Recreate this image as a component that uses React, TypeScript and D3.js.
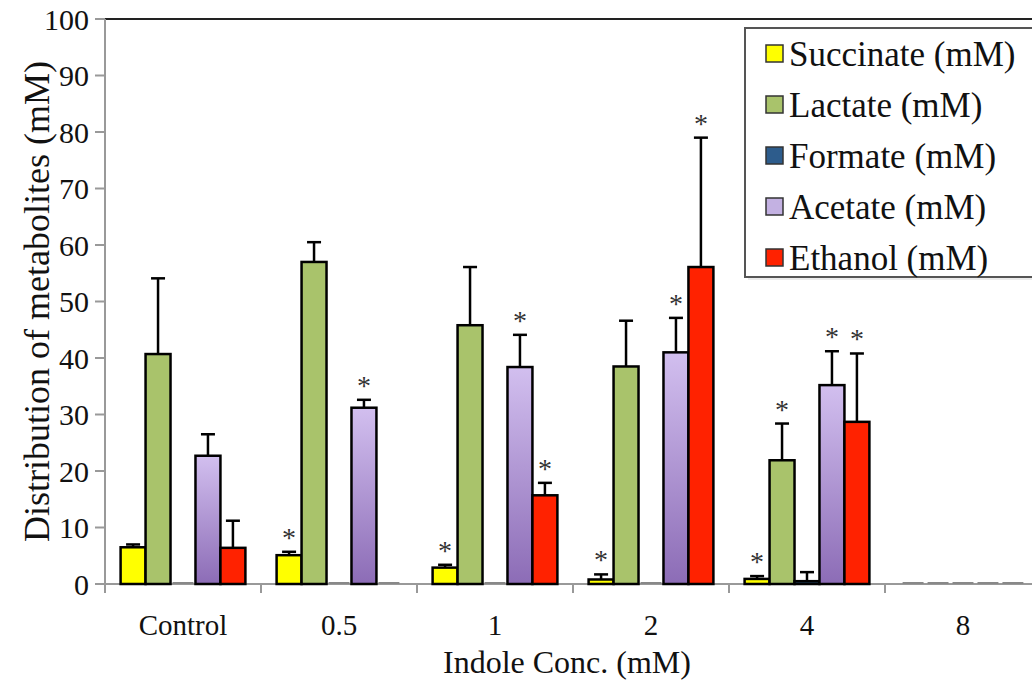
import React from "react";
import * as d3 from "d3";

const categories = ["Control", "0.5", "1", "2", "4", "8"];
const seriesNames = ["Succinate (mM)", "Lactate (mM)", "Formate (mM)", "Acetate (mM)", "Ethanol (mM)"];

const succinate = [6.5, 5.1, 2.9, 0.8, 0.9, 0];
const lactate = [40.7, 57.0, 45.8, 38.5, 21.9, 0];
const formate = [0, 0, 0, 0, 0.5, 0];
const acetate = [22.7, 31.2, 38.4, 41.0, 35.2, 0];
const ethanol = [6.4, 0, 15.7, 56.1, 28.7, 0];

const succinateErr = [0.5, 0.6, 0.5, 0.9, 0.5, 0];
const lactateErr = [13.4, 3.5, 10.3, 8.1, 6.5, 0];
const formateErr = [0, 0, 0, 0, 1.6, 0];
const acetateErr = [3.8, 1.4, 5.7, 6.1, 6.0, 0];
const ethanolErr = [4.8, 0, 2.2, 22.9, 12.1, 0];

// significance stars per series, per category
const succinateSig = [false, true, true, true, true, false];
const lactateSig = [false, false, false, false, true, false];
const formateSig = [false, false, false, false, false, false];
const acetateSig = [false, true, true, true, true, false];
const ethanolSig = [false, false, true, true, true, false];

const yTicks = [0, 10, 20, 30, 40, 50, 60, 70, 80, 90, 100];

const values = [succinate, lactate, formate, acetate, ethanol];
const errors = [succinateErr, lactateErr, formateErr, acetateErr, ethanolErr];
const sigs = [succinateSig, lactateSig, formateSig, acetateSig, ethanolSig];
const fills = ["#ffff00", "#a9c36b", "#2d5c8c", "url(#acetateGrad)", "#ff2200"];
const legendFills = ["#ffff00", "#a9c36b", "#2d5c8c", "#c3b1e2", "#ff2200"];

const W = 1032;
const H = 692;
const left = 105;
const top = 19;
const bottom = 584;
const right = 1041;
const font = "Liberation Serif, DejaVu Serif, serif";

export default function App() {
  const y = d3.scaleLinear().domain([0, 100]).range([bottom, top]);
  const x0 = d3.scaleBand<string>().domain(categories).range([left, right]).padding(0);
  const step = x0.bandwidth();
  const x1 = d3
    .scaleBand<string>()
    .domain(seriesNames)
    .range([step * 0.1, step * 0.9])
    .padding(0);
  const bw = x1.bandwidth();

  return (
    <svg width={W} height={H} style={{ position: "absolute", left: 0, top: 0, background: "#fff", fontFamily: font }}>
      <defs>
        <linearGradient id="acetateGrad" x1="0" y1="0" x2="0" y2="1">
          <stop offset="0%" stopColor="#d2bfef" />
          <stop offset="100%" stopColor="#8c6cb6" />
        </linearGradient>
      </defs>

      {/* top border */}
      <line x1={left} x2={W} y1={top} y2={top} stroke="#222" strokeWidth={2} />

      {/* y axis */}
      <line x1={left} x2={left} y1={top} y2={bottom + 8} stroke="#999" strokeWidth={2} />
      {yTicks.map((t) => (
        <g key={t}>
          <line x1={left - 10} x2={left} y1={y(t)} y2={y(t)} stroke="#999" strokeWidth={2} />
          <text x={left - 16} y={y(t)} dy="0.35em" textAnchor="end" fontSize={30} fill="#111">
            {t}
          </text>
        </g>
      ))}

      {/* x axis */}
      <line x1={left} x2={W} y1={bottom} y2={bottom} stroke="#999" strokeWidth={2} />
      {categories.map((c) => (
        <g key={c}>
          <line x1={x0(c)!} x2={x0(c)!} y1={bottom} y2={bottom + 9} stroke="#999" strokeWidth={2} />
          <text x={x0(c)! + step / 2} y={bottom + 51} textAnchor="middle" fontSize={29} fill="#111">
            {c}
          </text>
        </g>
      ))}

      {/* bars */}
      {categories.map((c, ci) => (
        <g key={c} transform={`translate(${x0(c)},0)`}>
          {seriesNames.map((s, si) => {
            const v = values[si][ci];
            const e = errors[si][ci];
            const bx = x1(s)!;
            const cx = bx + bw / 2;
            const topY = y(v + e);
            if (v === 0 && e === 0) {
              return (
                <line key={s} x1={bx + 2} x2={bx + bw - 2} y1={bottom - 1} y2={bottom - 1} stroke="#888" strokeWidth={2} />
              );
            }
            return (
              <g key={s}>
                {e > 0 && (
                  <g stroke="#000" strokeWidth={2.5}>
                    <line x1={cx} x2={cx} y1={y(v)} y2={topY} />
                    <line x1={cx - 7} x2={cx + 7} y1={topY} y2={topY} />
                  </g>
                )}
                <rect
                  x={bx}
                  y={y(v)}
                  width={bw}
                  height={Math.max(bottom - y(v), 1)}
                  fill={fills[si]}
                  stroke="#000"
                  strokeWidth={2.5}
                />
                {sigs[si][ci] && (
                  <text x={cx} y={topY - 5} textAnchor="middle" fontSize={28} fill="#333">
                    *
                  </text>
                )}
              </g>
            );
          })}
        </g>
      ))}

      {/* legend */}
      <g>
        <rect x={748} y={31} width={290} height={249} fill="#ddd" opacity={0.6} />
        <rect x={745} y={28} width={290} height={249} fill="#fff" stroke="#555" strokeWidth={2} />
        {seriesNames.map((s, i) => {
          const ly = 54 + i * 51;
          return (
            <g key={s}>
              <rect x={766} y={ly - 9} width={17} height={17} fill={legendFills[i]} stroke="#333" strokeWidth={1.5} />
              <text x={789} y={ly} dy="0.35em" fontSize={35} fill="#111">
                {s}
              </text>
            </g>
          );
        })}
      </g>

      {/* axis titles */}
      <text
        transform={`translate(36,${(top + bottom) / 2}) rotate(-90)`}
        textAnchor="middle"
        dy="0.35em"
        fontSize={36}
        fill="#111"
      >
        Distribution of metabolites (mM)
      </text>
      <text x={567} y={673} textAnchor="middle" fontSize={32} fill="#111">
        Indole Conc. (mM)
      </text>
    </svg>
  );
}
